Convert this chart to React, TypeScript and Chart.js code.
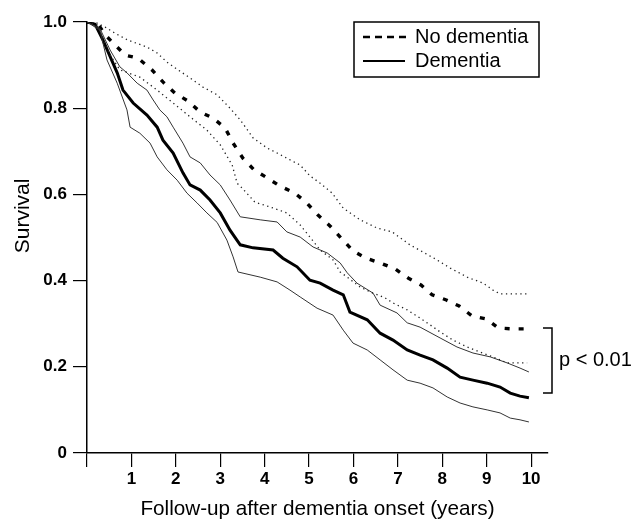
import React, { useEffect, useRef } from "react";
import { Chart, registerables } from "chart.js";

Chart.register(...registerables);

const FONT = "'Liberation Sans', Arial, Helvetica, sans-serif";

const xTickValues = [0, 1, 2, 3, 4, 5, 6, 7, 8, 9, 10];
const yTickValues = [0, 0.2, 0.4, 0.6, 0.8, 1.0];
const xTitle = "Follow-up after dementia onset (years)";
const yTitle = "Survival";
const legendLabels = ["No dementia", "Dementia"];
const pLabel = "p < 0.01";
const pBracket = [0.29, 0.139];

// Survival curves: [years, survival]
const noDementia: [number, number][] = [
  [0, 1], [0.23, 0.998], [0.41, 0.97], [0.86, 0.923], [1.15, 0.916], [1.46, 0.889], [1.71, 0.861],
  [1.98, 0.835], [2.27, 0.817], [2.55, 0.791], [2.84, 0.777], [3.11, 0.754], [3.29, 0.719],
  [3.51, 0.684], [3.76, 0.657], [4.03, 0.64], [4.35, 0.619], [4.68, 0.603], [4.95, 0.58],
  [5.2, 0.552], [5.47, 0.527], [5.72, 0.499], [5.99, 0.469], [6.28, 0.452], [6.6, 0.441],
  [6.94, 0.427], [7.23, 0.406], [7.52, 0.39], [7.77, 0.367], [8.09, 0.355], [8.38, 0.341],
  [8.67, 0.318], [8.99, 0.311], [9.26, 0.29], [9.59, 0.288], [9.93, 0.288],
];
const noDementiaUpper: [number, number][] = [
  [0, 1], [0.18, 1.0], [0.41, 0.988], [0.63, 0.974], [0.92, 0.958], [1.35, 0.942], [1.58, 0.928],
  [1.8, 0.907], [2.05, 0.889], [2.32, 0.87], [2.61, 0.849], [2.93, 0.831], [3.22, 0.8],
  [3.45, 0.773], [3.74, 0.731], [4.05, 0.708], [4.28, 0.696], [4.5, 0.684], [4.8, 0.668],
  [5.02, 0.643], [5.25, 0.626], [5.52, 0.603], [5.77, 0.568], [6.15, 0.541], [6.53, 0.522],
  [6.87, 0.513], [7.27, 0.483], [7.57, 0.466], [7.88, 0.448], [8.18, 0.429], [8.56, 0.408],
  [8.92, 0.394], [9.14, 0.378], [9.3, 0.369], [9.91, 0.369],
];
const noDementiaLower: [number, number][] = [
  [0, 1], [0.23, 0.993], [0.52, 0.923], [0.74, 0.889], [1.19, 0.872], [1.58, 0.842], [1.94, 0.812],
  [2.32, 0.78], [2.7, 0.749], [3.0, 0.715], [3.27, 0.668], [3.38, 0.626], [3.49, 0.615],
  [3.78, 0.582], [4.12, 0.571], [4.5, 0.557], [4.8, 0.529], [5.02, 0.501], [5.25, 0.471],
  [5.54, 0.448], [5.7, 0.42], [5.86, 0.408], [6.15, 0.385], [6.44, 0.371], [6.71, 0.36],
  [6.89, 0.348], [7.21, 0.332], [7.5, 0.313], [7.73, 0.297], [7.95, 0.281], [8.24, 0.262],
  [8.56, 0.246], [8.85, 0.234], [9.14, 0.223], [9.46, 0.209], [9.91, 0.209],
];
const dementia: [number, number][] = [
  [0, 1], [0.18, 0.995], [0.36, 0.958], [0.68, 0.882], [0.81, 0.842], [1.04, 0.812], [1.35, 0.784],
  [1.58, 0.756], [1.71, 0.726], [1.94, 0.696], [2.16, 0.65], [2.32, 0.622], [2.55, 0.61],
  [2.77, 0.587], [3.0, 0.557], [3.22, 0.517], [3.45, 0.483], [3.74, 0.476], [4.19, 0.471],
  [4.41, 0.452], [4.73, 0.432], [5.02, 0.401], [5.25, 0.394], [5.54, 0.378], [5.77, 0.367],
  [5.92, 0.327], [6.31, 0.309], [6.6, 0.278], [6.89, 0.262], [7.21, 0.239], [7.5, 0.227],
  [7.79, 0.216], [8.11, 0.197], [8.4, 0.176], [8.69, 0.169], [9.01, 0.162], [9.3, 0.153],
  [9.53, 0.139], [9.75, 0.132], [9.95, 0.128],
];
const dementiaUpper: [number, number][] = [
  [0, 1], [0.29, 0.985], [0.52, 0.935], [0.74, 0.896], [0.9, 0.882], [1.13, 0.858], [1.35, 0.842],
  [1.49, 0.819], [1.64, 0.796], [1.8, 0.78], [1.94, 0.756], [2.16, 0.719], [2.32, 0.687],
  [2.55, 0.673], [2.77, 0.645], [3.0, 0.622], [3.22, 0.587], [3.45, 0.548], [3.9, 0.541],
  [4.28, 0.536], [4.5, 0.513], [4.8, 0.501], [5.09, 0.478], [5.41, 0.464], [5.7, 0.441],
  [5.86, 0.418], [6.08, 0.394], [6.44, 0.371], [6.6, 0.343], [6.98, 0.325], [7.21, 0.302],
  [7.5, 0.292], [7.95, 0.267], [8.33, 0.246], [8.69, 0.232], [9.08, 0.223], [9.46, 0.209],
  [9.75, 0.197], [9.95, 0.188],
];
const dementiaLower: [number, number][] = [
  [0, 1], [0.29, 0.981], [0.45, 0.912], [0.68, 0.858], [0.9, 0.796], [0.97, 0.756], [1.19, 0.742],
  [1.42, 0.719], [1.58, 0.687], [1.8, 0.657], [2.03, 0.633], [2.25, 0.603], [2.48, 0.58],
  [2.7, 0.557], [2.93, 0.535], [3.15, 0.494], [3.29, 0.455], [3.4, 0.42], [3.9, 0.408],
  [4.28, 0.397], [4.57, 0.378], [4.8, 0.362], [5.18, 0.336], [5.54, 0.32], [5.77, 0.285],
  [5.99, 0.255], [6.31, 0.239], [6.6, 0.216], [6.89, 0.193], [7.21, 0.169], [7.5, 0.162],
  [7.79, 0.151], [8.11, 0.13], [8.4, 0.116], [8.69, 0.107], [9.01, 0.1], [9.3, 0.093],
  [9.53, 0.081], [9.75, 0.077], [9.95, 0.072],
];

const toPts = (a: [number, number][]) => a.map(([x, y]) => ({ x, y }));

const annotations = {
  id: "annotations",
  afterDraw(chart: any) {
    const { ctx, chartArea } = chart;
    const ys = chart.scales.y;
    ctx.save();
    // y-axis title
    ctx.fillStyle = "#000";
    ctx.font = `21px ${FONT}`;
    ctx.textAlign = "center";
    ctx.textBaseline = "middle";
    ctx.save();
    ctx.translate(23, ys.getPixelForValue(0.55));
    ctx.rotate(-Math.PI / 2);
    ctx.fillText(yTitle, 0, 0);
    ctx.restore();

    // legend box
    const bx = chartArea.right - 194;
    const by = chartArea.top;
    const bw = 185;
    const bh = 55;
    ctx.strokeStyle = "#000";
    ctx.lineWidth = 1.5;
    ctx.setLineDash([]);
    ctx.strokeRect(bx, by, bw, bh);
    const rows = [by + 15, by + 39];
    ctx.lineWidth = 2.5;
    ctx.setLineDash([7, 5]);
    ctx.beginPath();
    ctx.moveTo(bx + 9, rows[0]);
    ctx.lineTo(bx + 53, rows[0]);
    ctx.stroke();
    ctx.setLineDash([]);
    ctx.lineWidth = 2;
    ctx.beginPath();
    ctx.moveTo(bx + 9, rows[1]);
    ctx.lineTo(bx + 51, rows[1]);
    ctx.stroke();
    ctx.font = `20px ${FONT}`;
    ctx.textAlign = "left";
    ctx.fillText(legendLabels[0], bx + 61, rows[0]);
    ctx.fillText(legendLabels[1], bx + 61, rows[1]);

    // p-value bracket
    const x0 = chartArea.right + 4;
    const yT = ys.getPixelForValue(pBracket[0]);
    const yB = ys.getPixelForValue(pBracket[1]);
    ctx.lineWidth = 1.5;
    ctx.beginPath();
    ctx.moveTo(x0 - 9, yT);
    ctx.lineTo(x0, yT);
    ctx.lineTo(x0, yB);
    ctx.lineTo(x0 - 9, yB);
    ctx.stroke();
    ctx.fillText(pLabel, x0 + 7, (yT + yB) / 2);
    ctx.restore();
  },
};

export default function App() {
  const ref = useRef<HTMLCanvasElement>(null);
  useEffect(() => {
    if (!ref.current) return;
    const tickFont = { family: FONT, size: 17, weight: "bold" as const };
    const titleFont = { family: FONT, size: 20.7 };
    const chart = new Chart(ref.current, {
      type: "line",
      data: {
        datasets: [
          { label: "No dementia upper", data: toPts(noDementiaUpper), borderColor: "#222", borderWidth: 1.3, borderDash: [1.3, 3.5] },
          { label: "No dementia lower", data: toPts(noDementiaLower), borderColor: "#222", borderWidth: 1.3, borderDash: [1.3, 3.5] },
          { label: "Dementia upper", data: toPts(dementiaUpper), borderColor: "#333", borderWidth: 1 },
          { label: "Dementia lower", data: toPts(dementiaLower), borderColor: "#333", borderWidth: 1 },
          { label: legendLabels[0], data: toPts(noDementia), borderColor: "#000", borderWidth: 3.4, borderDash: [5, 9] },
          { label: legendLabels[1], data: toPts(dementia), borderColor: "#000", borderWidth: 3 },
        ],
      },
      options: {
        responsive: false,
        animation: false,
        parsing: false as any,
        layout: { padding: { top: 22, right: 91, left: 0, bottom: 0 } },
        elements: { point: { radius: 0 }, line: { tension: 0, fill: false } },
        plugins: { legend: { display: false }, tooltip: { enabled: false } },
        scales: {
          x: {
            type: "linear",
            min: 0,
            max: 10.38,
            afterBuildTicks: (s: any) => {
              s.ticks = xTickValues.map((v) => ({ value: v }));
            },
            afterFit: (s: any) => {
              s.height = 69;
            },
            ticks: {
              autoSkip: false,
              maxRotation: 0,
              color: "#000",
              font: tickFont,
              padding: 2,
              callback: (v: any) => (v === 0 ? "" : String(v)),
            },
            grid: { drawOnChartArea: false, drawTicks: true, tickLength: 14, color: "#000", lineWidth: 1.2 },
            border: { color: "#000", width: 1.5 },
            title: { display: true, text: xTitle, color: "#000", font: titleFont, padding: { top: 0, bottom: 0 } },
          },
          y: {
            type: "linear",
            min: 0,
            max: 1,
            afterBuildTicks: (s: any) => {
              s.ticks = yTickValues.map((v) => ({ value: v }));
            },
            afterFit: (s: any) => {
              s.width = 87;
            },
            ticks: {
              color: "#000",
              font: tickFont,
              padding: 6,
              callback: (v: any) => (v === 0 ? "0" : Number(v).toFixed(1)),
            },
            grid: { drawOnChartArea: false, drawTicks: true, tickLength: 14, color: "#000", lineWidth: 1.2 },
            border: { color: "#000", width: 1.5 },
            title: { display: false },
          },
        },
      },
      plugins: [annotations],
    });
    return () => chart.destroy();
  }, []);
  return (
    <div style={{ position: "absolute", left: 0, top: 0, width: 639, height: 522, background: "#fff" }}>
      <canvas ref={ref} width={639} height={522} style={{ display: "block" }} />
    </div>
  );
}
